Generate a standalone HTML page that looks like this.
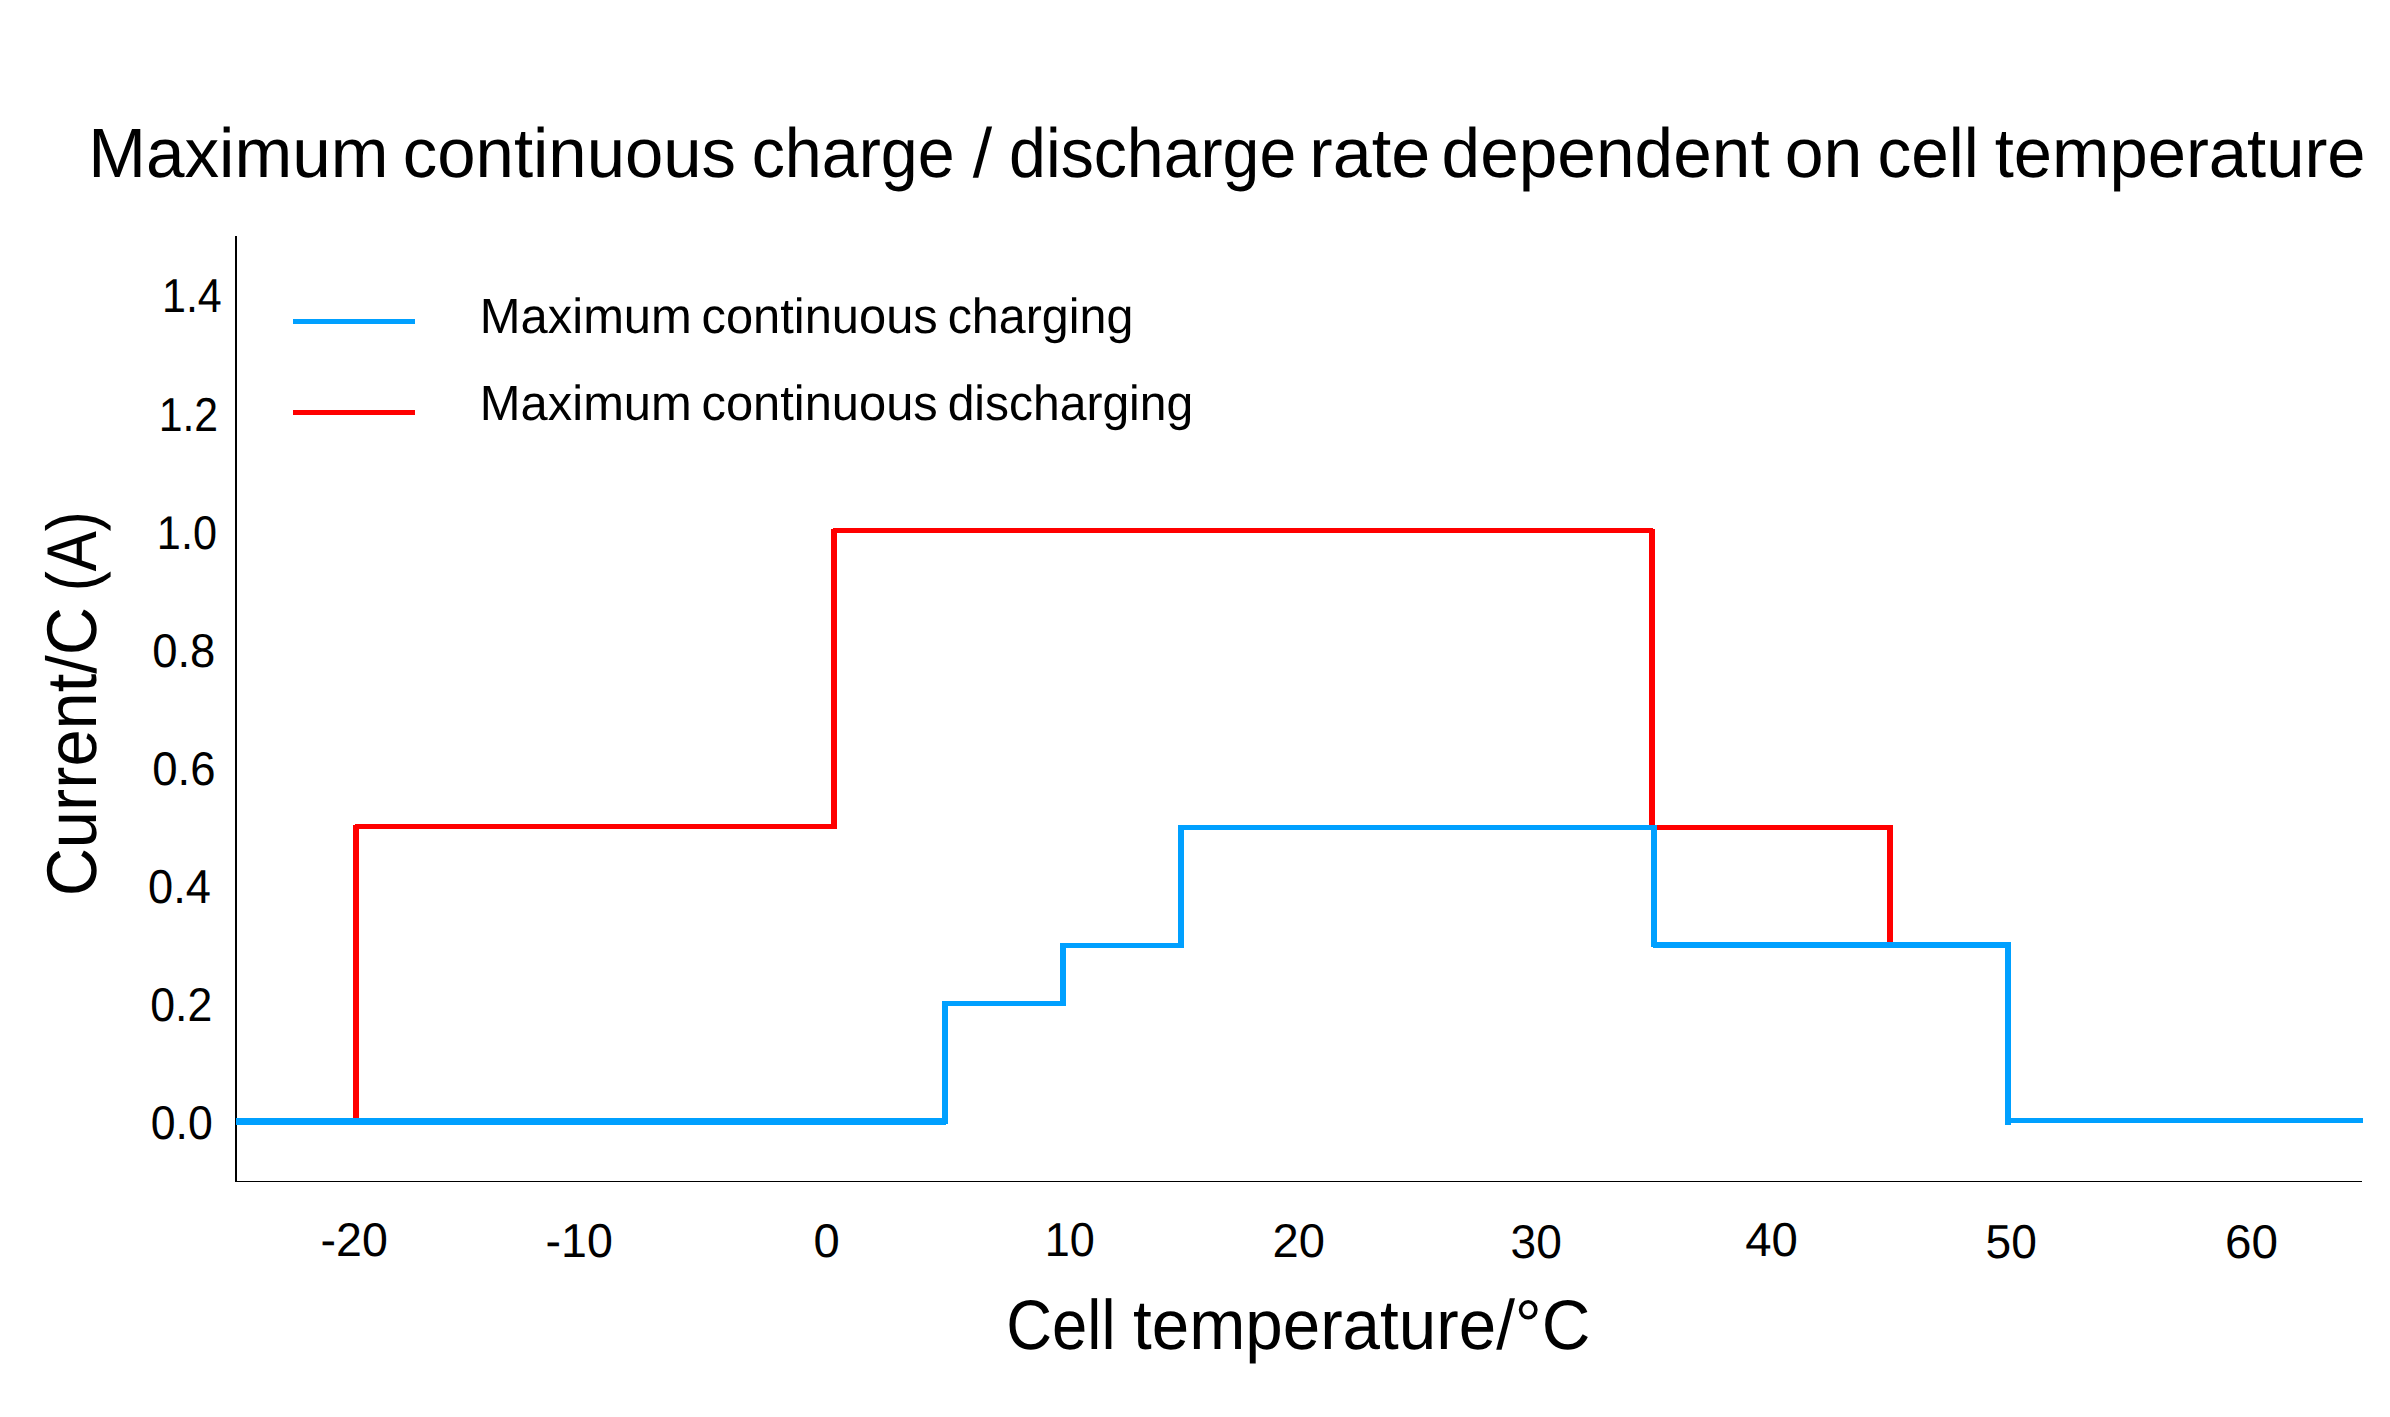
<!DOCTYPE html>
<html lang="en"><head><meta charset="utf-8"><title>Maximum continuous charge / discharge rate dependent on cell temperature</title>
<style>
html,body{margin:0;padding:0;background:#fff;}
body{width:2390px;height:1417px;overflow:hidden;}
svg{display:block;}
text{font-family:"Liberation Sans",sans-serif;fill:#000;text-rendering:geometricPrecision;}
</style></head>
<body>
<svg width="2390" height="1417" viewBox="0 0 2390 1417">
<rect width="2390" height="1417" fill="#fff"/>
<g shape-rendering="crispEdges">
<rect x="235" y="236" width="2" height="946" fill="#000"/>
<rect x="235" y="1181" width="2127" height="1" fill="#000"/>
<rect x="293" y="319" width="122" height="5" fill="#00A0FF"/>
<rect x="293" y="410" width="122" height="5" fill="#FF0000"/>
<rect x="353" y="825" width="6" height="296" fill="#FF0000"/>
<rect x="355" y="824" width="482" height="5" fill="#FF0000"/>
<rect x="831" y="529" width="6" height="300" fill="#FF0000"/>
<rect x="833" y="528" width="820" height="5" fill="#FF0000"/>
<rect x="1649" y="529" width="6" height="299" fill="#FF0000"/>
<rect x="1651" y="825" width="242" height="5" fill="#FF0000"/>
<rect x="1887" y="825" width="6" height="120" fill="#FF0000"/>
<rect x="236" y="1118" width="710" height="7" fill="#00A0FF"/>
<rect x="942" y="1001" width="6" height="123" fill="#00A0FF"/>
<rect x="942" y="1001" width="124" height="5" fill="#00A0FF"/>
<rect x="1060" y="943" width="6" height="63" fill="#00A0FF"/>
<rect x="1060" y="943" width="124" height="5" fill="#00A0FF"/>
<rect x="1178" y="825" width="6" height="123" fill="#00A0FF"/>
<rect x="1178" y="825" width="479" height="5" fill="#00A0FF"/>
<rect x="1651" y="825" width="6" height="122" fill="#00A0FF"/>
<rect x="1653" y="942" width="358" height="6" fill="#00A0FF"/>
<rect x="2005" y="942" width="6" height="183" fill="#00A0FF"/>
<rect x="2005" y="1118" width="358" height="5" fill="#00A0FF"/>
</g>
<text y="176.80" font-size="69.67"><tspan x="88.13" textLength="300.45" lengthAdjust="spacingAndGlyphs">Maximum</tspan> <tspan x="402.87" textLength="333.17" lengthAdjust="spacingAndGlyphs">continuous</tspan> <tspan x="751.68" textLength="202.91" lengthAdjust="spacingAndGlyphs">charge</tspan> <tspan x="972.78">/</tspan> <tspan x="1009.08" textLength="287.19" lengthAdjust="spacingAndGlyphs">discharge</tspan> <tspan x="1309.37" textLength="120.84" lengthAdjust="spacingAndGlyphs">rate</tspan> <tspan x="1441.55" textLength="328.14" lengthAdjust="spacingAndGlyphs">dependent</tspan> <tspan x="1784.63" textLength="77.81" lengthAdjust="spacingAndGlyphs">on</tspan> <tspan x="1877.43" textLength="101.26" lengthAdjust="spacingAndGlyphs">cell</tspan> <tspan x="1994.77" textLength="370.76" lengthAdjust="spacingAndGlyphs">temperature</tspan></text>
<text y="333.05" font-size="49.53"><tspan x="479.86" textLength="211.96" lengthAdjust="spacingAndGlyphs">Maximum</tspan> <tspan x="701.52" textLength="236.28" lengthAdjust="spacingAndGlyphs">continuous</tspan> <tspan x="947.64" textLength="185.73" lengthAdjust="spacingAndGlyphs">charging</tspan></text>
<text y="419.75" font-size="49.38"><tspan x="479.86" textLength="211.96" lengthAdjust="spacingAndGlyphs">Maximum</tspan> <tspan x="701.52" textLength="236.28" lengthAdjust="spacingAndGlyphs">continuous</tspan> <tspan x="947.66" textLength="245.53" lengthAdjust="spacingAndGlyphs">discharging</tspan></text>
<text y="311.80" font-size="47.71"><tspan x="161.97" textLength="59.83" lengthAdjust="spacingAndGlyphs">1.4</tspan></text>
<text y="431.00" font-size="47.71"><tspan x="158.69" textLength="59.45" lengthAdjust="spacingAndGlyphs">1.2</tspan></text>
<text y="548.90" font-size="47.42"><tspan x="156.86" textLength="60.08" lengthAdjust="spacingAndGlyphs">1.0</tspan></text>
<text y="666.80" font-size="47.42"><tspan x="152.18" textLength="63.16" lengthAdjust="spacingAndGlyphs">0.8</tspan></text>
<text y="784.70" font-size="47.13"><tspan x="152.18" textLength="63.28" lengthAdjust="spacingAndGlyphs">0.6</tspan></text>
<text y="903.00" font-size="47.56"><tspan x="148.09" textLength="62.87" lengthAdjust="spacingAndGlyphs">0.4</tspan></text>
<text y="1020.80" font-size="47.42"><tspan x="150.32" textLength="62.02" lengthAdjust="spacingAndGlyphs">0.2</tspan></text>
<text y="1138.70" font-size="47.27"><tspan x="150.72" textLength="61.97" lengthAdjust="spacingAndGlyphs">0.0</tspan></text>
<text y="1255.80" font-size="47.42"><tspan x="320.61" textLength="67.27" lengthAdjust="spacingAndGlyphs">-20</tspan></text>
<text y="1256.80" font-size="47.56"><tspan x="545.61" textLength="67.27" lengthAdjust="spacingAndGlyphs">-10</tspan></text>
<text y="1256.60" font-size="47.13"><tspan x="813.52" textLength="26.21" lengthAdjust="spacingAndGlyphs">0</tspan></text>
<text y="1255.80" font-size="47.71"><tspan x="1044.72" textLength="50.07" lengthAdjust="spacingAndGlyphs">10</tspan></text>
<text y="1256.80" font-size="47.42"><tspan x="1272.45" textLength="52.38" lengthAdjust="spacingAndGlyphs">20</tspan></text>
<text y="1257.65" font-size="47.35"><tspan x="1510.62" textLength="51.28" lengthAdjust="spacingAndGlyphs">30</tspan></text>
<text y="1255.80" font-size="47.71"><tspan x="1745.13" textLength="52.65" lengthAdjust="spacingAndGlyphs">40</tspan></text>
<text y="1257.70" font-size="47.56"><tspan x="1985.56" textLength="51.28" lengthAdjust="spacingAndGlyphs">50</tspan></text>
<text y="1257.70" font-size="47.42"><tspan x="2225.02" textLength="52.98" lengthAdjust="spacingAndGlyphs">60</tspan></text>
<text y="1348.85" font-size="70.18"><tspan x="1006.23" textLength="109.26" lengthAdjust="spacingAndGlyphs">Cell</tspan> <tspan x="1132.99" textLength="457.44" lengthAdjust="spacingAndGlyphs">temperature/°C</tspan></text>
<text transform="matrix(0 -1 1 0 96.00 0)" y="0" font-size="70.47"><tspan x="-896.34" textLength="289.27" lengthAdjust="spacingAndGlyphs">Current/C</tspan> <tspan x="-591.35" textLength="80.04" lengthAdjust="spacingAndGlyphs">(A)</tspan></text>
</svg>
</body></html>
